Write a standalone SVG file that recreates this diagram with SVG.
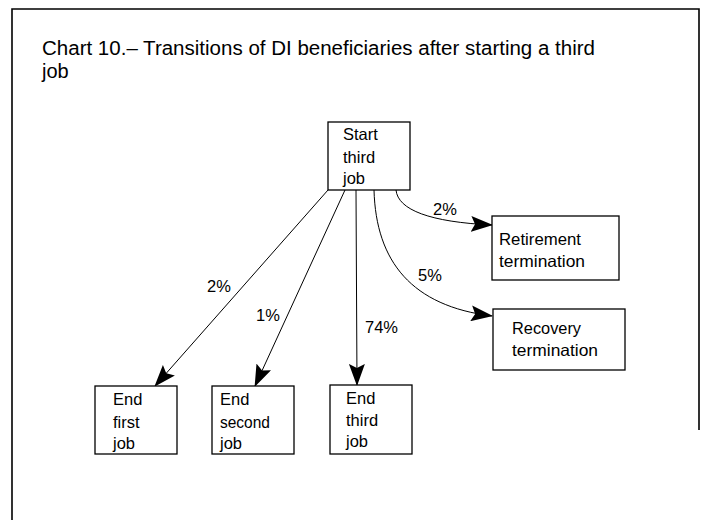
<svg xmlns="http://www.w3.org/2000/svg" width="701" height="520" viewBox="0 0 701 520">
<style>
.frame{fill:none;stroke:#000;stroke-width:1.6}
.box{fill:#fff;stroke:#000;stroke-width:1.3}
.edge{fill:none;stroke:#000;stroke-width:1}
text{font-family:"Liberation Sans",Arial,sans-serif;fill:#000}
.t{font-size:20px}
.n{font-size:16.5px}
.p{font-size:16.5px}
</style>
<defs>
<marker id="ah" markerUnits="userSpaceOnUse" markerWidth="22" markerHeight="16" refX="21" refY="8" orient="auto">
<path d="M0,0 L22,8 L0,16 L4,8 Z" fill="#000"/>
</marker>
</defs>
<rect width="701" height="520" fill="#fff"/>
<path class="frame" d="M12,520 L12,9 L699,9 L699,430"/>
<text class="t" x="42" y="55" textLength="553" lengthAdjust="spacingAndGlyphs">Chart 10.– Transitions of DI beneficiaries after starting a third</text>
<text class="t" x="42" y="78">job</text>
<g id="connectors">
<path class="edge" d="M328,190 L155,386" marker-end="url(#ah)"/>
<path class="edge" d="M345,190 L255,386" marker-end="url(#ah)"/>
<path class="edge" d="M356,190 L357,385" marker-end="url(#ah)"/>
<path class="edge" d="M374,190 C376,262 412,306 492,316" marker-end="url(#ah)"/>
<path class="edge" d="M396,190 C398,210 430,222 492,225" marker-end="url(#ah)"/>
<text class="p" x="207" y="292">2%</text>
<text class="p" x="256" y="321">1%</text>
<text class="p" x="365" y="333">74%</text>
<text class="p" x="418" y="281">5%</text>
<text class="p" x="433" y="215">2%</text>
</g>
<g id="start">
<rect class="box" x="328" y="122" width="82" height="68"/>
<text class="n" x="343" y="140">Start</text>
<text class="n" x="343" y="163">third</text>
<text class="n" x="343" y="184">job</text>
</g>
<g id="retirement">
<rect class="box" x="492" y="216" width="127" height="64"/>
<text class="n" x="499" y="245" textLength="82" lengthAdjust="spacingAndGlyphs">Retirement</text>
<text class="n" x="499" y="267" textLength="86" lengthAdjust="spacingAndGlyphs">termination</text>
</g>
<g id="recovery">
<rect class="box" x="493" y="309" width="132" height="61"/>
<text class="n" x="512" y="334" textLength="69" lengthAdjust="spacingAndGlyphs">Recovery</text>
<text class="n" x="512" y="356" textLength="86" lengthAdjust="spacingAndGlyphs">termination</text>
</g>
<g id="end-first">
<rect class="box" x="95" y="386" width="82" height="68"/>
<text class="n" x="113" y="405">End</text>
<text class="n" x="113" y="428">first</text>
<text class="n" x="113" y="449">job</text>
</g>
<g id="end-second">
<rect class="box" x="212" y="386" width="82" height="68"/>
<text class="n" x="220" y="405">End</text>
<text class="n" x="220" y="428" textLength="50" lengthAdjust="spacingAndGlyphs">second</text>
<text class="n" x="220" y="449">job</text>
</g>
<g id="end-third">
<rect class="box" x="330" y="385" width="82" height="69"/>
<text class="n" x="346" y="404">End</text>
<text class="n" x="346" y="426">third</text>
<text class="n" x="346" y="447">job</text>
</g>
</svg>
